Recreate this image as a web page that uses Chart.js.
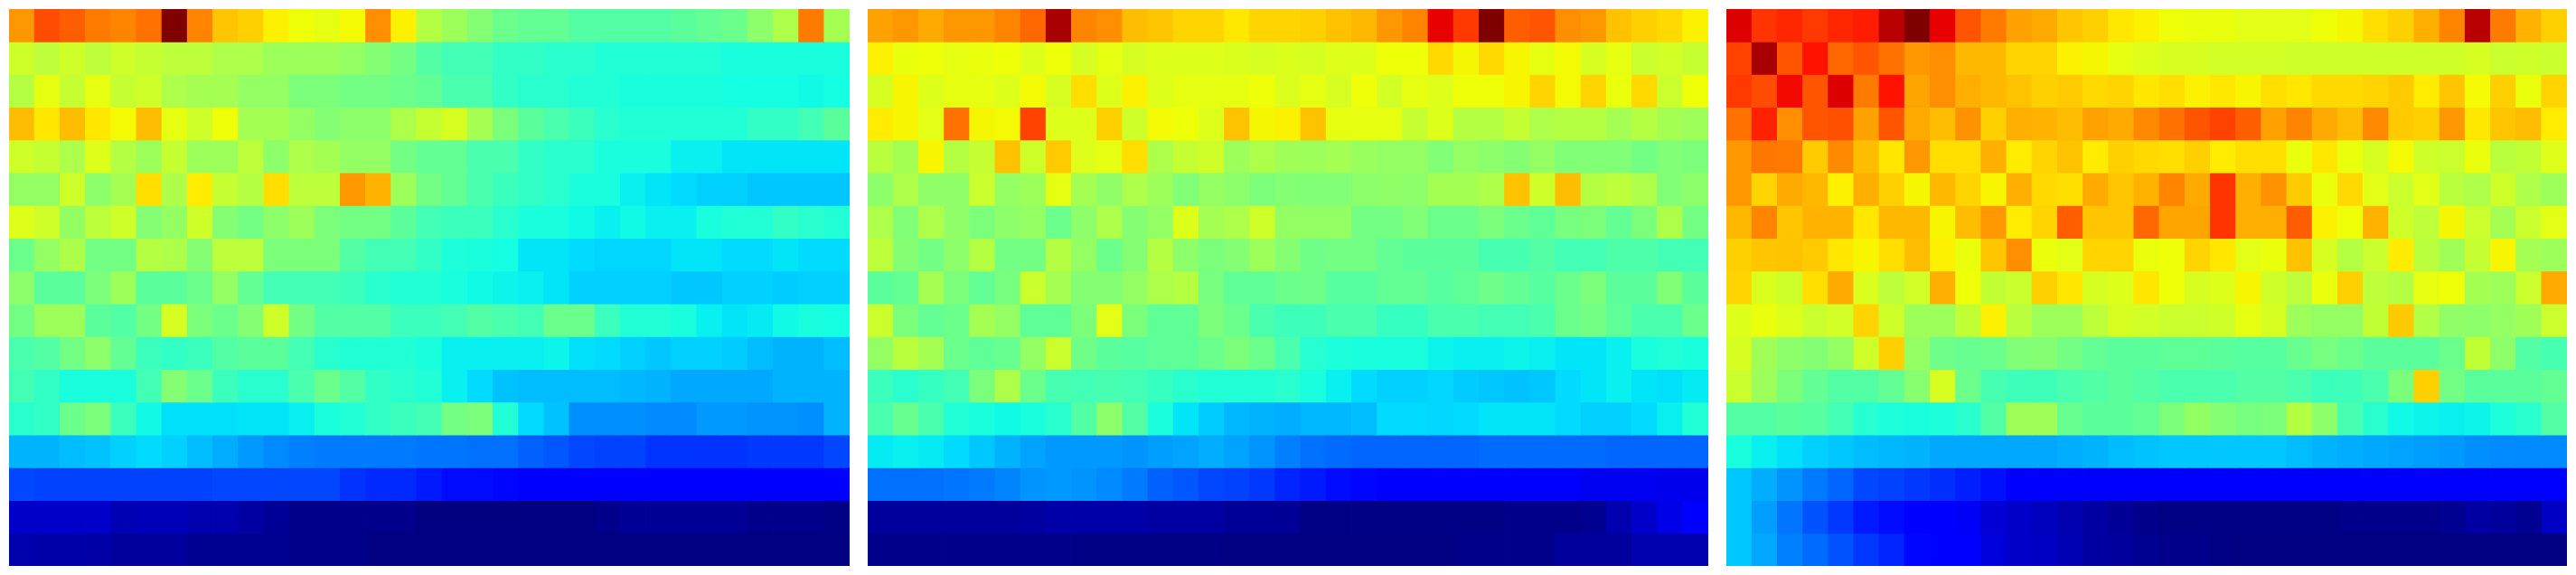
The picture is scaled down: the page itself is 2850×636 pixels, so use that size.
<!DOCTYPE html>
<html>
<head>
<meta charset="utf-8">
<script src="https://cdn.jsdelivr.net/npm/chart.js@4"></script>
<style>
html,body{margin:0;padding:0;background:#fff;width:2850px;height:636px;overflow:hidden}
.p{position:absolute;top:10px;width:930px;height:616px}
canvas{display:block}
</style>
</head>
<body>
<div class="p" style="left:10px"><canvas id="a"></canvas></div>
<div class="p" style="left:960px"><canvas id="b"></canvas></div>
<div class="p" style="left:1910px"><canvas id="c"></canvas></div>
<script>
const columns = Array.from({length:33},(_,i)=>String(i+1));
const panelA = [
[75,83,81,78,77,79,100,77,70,69,65.5,64,63,64.5,76,65.5,57,54,51,48,47,47,45,45,45,45,46,47,48,52,56,78,55],
[60,58,60,58,60,59,58,58,56,56,54,54,54,53,51,49,45,43,43,41,41,40,40,39,39,39,39,39,38,38,38,38,38],
[57,63,59,63,59,60,56,55,55,53,53,50,50,49,49,48,47,44,44,41,40,40,39,39,38,38,38,38,37.5,37.5,37.5,37,37.5],
[71,66.5,71,66.5,64.5,71,63,60,64,55,55,53,51,52,52,56,59,61,55,50,46,44,42,40,39,39,39,39,39,41,41,43,46],
[60,59,56,62,57,54,59,54,54,58,52,56,55,53,53,49,47,47,44,44,41,40,40,38,38,38,36,36,35,35,35,35,35],
[53,53,60,52,55,67.5,56,66,59,57,67.5,58,58,75,72,54,49,47,44,42,41,40,38,38,36,35,34,33,33,32,32,32,32],
[62,60,53,58,60,51,53,60,51,49,52,54,50,49,49,46,43,42,42,40,38,38,37,36,37,36,36,38,39,39,41,40,39],
[48,53,56,49,49,57,56,51,58,58,50,50,50,45,43,43,41,38.5,38,37.5,35,35,34,33.5,33.5,33.5,35,35,34,34,35,34,34],
[52,46,46,50,54,46,46,48,53,47,43,43,43,42,40,39,39,38,37,36.5,36,35,33,33,33,33,32,32,33,33,32.5,33,33],
[49,54,54,46,45,49,61,50,48,51,60,49,45,45,45,42,42,43,45,44,43,48,48,42,39,39,38,36,35,35.5,37,38,37.5],
[44,45,49,52,47,42,41,42,45,46,46,43,40,39,39,39,38,36,36,36,36,36.5,34.5,34,33,32,33,33,32.5,31,30,30,31],
[43,41,38,38,38,43,51,48,42,40,40,44,48,45,41,40,39,36,34,31.5,31,31,31,31,30.5,30,29,29,29,29,30,30,30],
[40,41,48,50,42,37,34.5,34.5,34.5,35,35,36,38,39,41,42,43,49,50,39,34,31.5,26.5,26.5,26.5,26,26,27.5,27.5,27,27,26.5,30],
[30,30,31,31.5,33,34,33,31,29.5,27.5,26,25,24.5,24.5,24.5,24.5,24,24,23.5,23.5,22,21,19.5,19,19,17.5,17.5,17.5,17.5,18,18,18,19.5],
[19.5,19,19,19,19,19,19,19,19.5,19.5,19.5,19.5,19.5,17.5,16.5,16.5,15,13.5,13.5,13,11.5,11.5,11.5,11.5,11.5,11.5,11.5,11.5,11.5,11.5,11.5,11.5,11.5],
[6.5,6.5,6.5,6.5,4.5,5,5,4,4,3,2,1,1,1,1,1,0,0,0,0,0,0,0,1,2,2,2,2,2,1,1,1,0.5],
[3.8,3.5,3.5,3.3,2.5,2.5,2.5,1.5,1.5,1.5,1.5,1,1,1,0,0,0,0,0,0,0,0,0,0,0,0,0,0,0,0,0,0,0]
];
const panelB = [
[74,75,73,75,75,77,80,96.5,77,76,71,70,68.5,68.5,66.5,68.5,68.5,69,70.5,71.5,75,77,91,85,100,81,82,76,75,70.5,69,68,65.5],
[65.5,63.5,64,63,63.5,64,62,64,61,63,61,62,62,62,61.5,61,61.5,61,62,62,64,64,68,64.8,68,65,63,64.5,61,63,59.5,60.5,59],
[61,65,62,63,63,62,64.5,61,67.5,62,65.5,62,63,63,63,64,61.5,63,61,64,60.5,63,62,64,64,65,68.5,64.5,68.5,63.5,68,59.5,64],
[66,65,62.5,79,64.8,64.5,84,62,62,69,60,64.5,64,62,70.5,64.8,65.5,70.5,63,63,63,59,62,57,57,59,56,57,57,55,57,55,54],
[57.5,55,65,57,59,70.5,60,69.5,62,63,67.5,56,59,60,54,56,54.5,54,55,53.5,53,53,50.5,53,52,51,53,50.5,50.5,50.5,49,50.5,50],
[52,56,52.5,52.5,59.5,53,54,63,55,52.5,56,54,50.5,53,52,50,51,50.5,50.5,52,52.5,52,55,55,56,70.5,60,71,57,58,56,50.5,52],
[56,50.5,56,52.5,50,52,53,48,52,56,51,53,62,55,56,60,53,53,53,49,49,50.5,48,48,50,48,46.5,49.5,50,47,50,56,49],
[58,51,49,52,57,49,49,57,53,48,51,57,52,50,51,54,51,48.5,49,49,47,46,46,46,43.5,43.5,45,43,43,44.5,44.5,43,43],
[46,47,55,50,47,49.5,59.5,55,51,51,53,56,57,49.5,46.5,46.5,48,48.5,45.5,45.5,47,47,45.5,46.5,48.5,47,45.5,48,50,46,46,50.5,46],
[59.5,50,47,48,55,53,46.5,46.5,50,62.5,50,46.5,46.5,50,48,44,42.5,42.5,44,44,41.5,41.5,44,44,43,43,44,48,49,46.5,44,44,48],
[53,57.5,55,48,46.5,47.5,53,59.5,48.5,46,45.5,46.5,46.5,48,50,48,44,39.5,38.5,38,38,38,36.5,36,36,36.5,36,35,35,36,38,39,38],
[42,40,41.5,43,50,56,48,43.5,43,43.5,43,41.5,40,39,39,39,40,38,36,34,33,33,33.5,32.5,32,31.5,32,34,35,36,35,34.5,35.5],
[44,47.5,44,39,38,37,38,40,45,52,45,38,35,32.5,30.5,30,29.5,30.5,30.5,31,34,34,33.5,34,35,35,35,34,33,33,34,36,39],
[35.5,36,35.5,34,32,30,28.5,27.5,27.5,27.5,27,28,28.5,29.5,28.5,27,25,23.5,23,22.5,22.5,22.5,22.5,22.5,23,23,23,23,23,22.5,22.5,22.5,22.5],
[23.5,23.5,23.5,24,24.5,25.5,27,27.5,27,26,24.5,22,21,19.5,19,18,16,15,13.5,13,11.5,11.5,11.5,11.5,11.5,11,11,11,10,10,10,9.5,9.5],
[2.5,2.5,2.5,2.5,2.5,2.5,2.8,3.5,3.5,3.5,3.5,3,3,3,2,2,2,0.5,0.5,0.5,0.5,0.5,0.5,0.5,0.5,1,1,1,1.5,4,6.5,9,11.5],
[1,1,1,1,1,1,1,1,0.5,0.5,0.5,0.5,0.5,0.5,0,0,0,0,0,0,0,0,0,1,1,1,1,2.5,2.5,2.5,4,4,4]
];
const panelC = [
[92,85.5,87,85,87,88,95,100,91,82,78,74,73,70,69,66.5,65.5,64,63.5,63.5,62.5,62.5,62.5,64,64.8,67.5,69,72.5,77,95,78,72,69],
[84,96.5,82,89,80,82,79,75,76,71.5,71.5,68.5,68.5,65.5,64.8,63,62,61,61,60.5,60.5,60.5,60,60,60,60,60,60,60,61,59.5,60,59.5],
[85,83,90,82,92,78,89,73.5,76,72.5,71.5,70.5,69,69.5,68,68.5,66.5,67.5,65.5,66.5,65,67.5,66.5,68,68,68.5,69.5,66,70,64.5,69,63.5,68.5],
[79,87.5,76,82,82.5,74,82,73,71,75.5,69,72.5,72,71,74,73,76.5,79,82,84,81,74,77,73,71,76.5,69.5,69,75,66.5,70,71,66],
[75,78.5,78,69.5,76.5,71,66.5,75,67.5,67.5,72.5,66,68.5,70.5,66,69,68,67.5,69,66,67.5,67.5,63.5,66.5,63.5,61,64.5,60,59.5,63.5,57.5,58.5,62],
[75,68.5,73,71.5,65.5,72.5,69,64.8,71.5,68.5,65,72.5,68,67.5,73,70,72,77,73,85.5,72.5,75.5,69.5,63.5,68,62.5,59.5,62.5,57.5,56,60,56,54],
[71.5,77,70,72,72,66.5,71.5,71.5,65,71,75,66,68.5,81,70,70,80,73.5,73.5,85.5,72.5,72.5,81,65.5,64,72,60,58,64.8,59.5,55,59.5,62.5],
[69,70,70.5,69.5,66.5,65,67.5,71,65.5,63.5,70,76,63.5,62.5,68.5,68.5,63.5,64,68.5,66.5,62.5,63.5,70.5,61,57,59.5,66,57.5,54.5,59,65,55,54],
[68.5,61.5,60,67.5,73,61.5,58,60.5,72.5,64,58.5,59.5,69,66.5,61,62,66.5,64,61,62,65,60,58,63.5,69,58,57,63,64,55,54,59.5,73],
[62,63.5,62,59.5,60.5,68.5,60,54,54,58.5,65.5,57.5,54,54,58,61,60.5,59.5,59.5,60,63,61,54,53,53,58.5,69.5,56.5,52.5,52,53,54.5,59.5],
[61,54.5,52,51,53,60,69,53,48.5,47.5,48,50.5,51,49,47,46,46,46.5,46.5,46,45.5,45.5,47.5,49.5,48,46,46,46,48,58.5,52,45,43.5],
[59.5,54,50,47,45,45,47,51.5,61,48,43.5,42.5,42.5,44,45,46,45,44,44,44,45,45,44,42,42.5,44,50,69,49,46,46,46,47],
[45,45,46,45.5,43,39.5,38.5,38,38.5,40,45,54.5,54.5,47.5,46,46,47,50,53,51,49.5,50,57,52,43.5,40,37,36.5,36,36.5,38.5,40,45],
[38,36,34.5,33,32,31,30.5,30,29,29,29,29,29,29.5,30,31,31.5,32,32,32,32,32,31,30,29.5,29,28.5,28,27.5,26.5,26,26,26],
[32,29.5,27,24.5,22.5,19.5,19,18,17,15.5,14,11.5,11.5,11.5,11.5,11.5,11.5,11.5,11.5,11.5,11.5,11.5,11.5,11.5,11.5,11.5,11.5,11.5,11.5,11.5,11.5,11.5,11.5],
[32,28,24,20.5,18,15,13.5,11.5,11.5,10.5,7.5,6.5,5.5,4,3,2,1,0.5,0.5,0.5,0.5,0.5,0.5,0.5,1,1,1,1,1.5,3,2.5,1.5,6],
[32,29,25,23,20.5,18,16,13,11.5,11,8,6.5,6,4.5,3,2.5,1.5,1,1,0.5,0,0,0,0,0,0,0,0,0,0,0,0,0]
];

// matplotlib "jet" colour map, value in 0..100
function jet(value){
  const v = value / 100;
  const lerp = (pts) => {
    for (let i = 1; i < pts.length; i++) {
      if (v <= pts[i][0]) {
        const t = (v - pts[i-1][0]) / (pts[i][0] - pts[i-1][0]);
        return pts[i-1][1] + t * (pts[i][1] - pts[i-1][1]);
      }
    }
    return pts[pts.length-1][1];
  };
  const r = lerp([[0,0],[.35,0],[.66,1],[.89,1],[1,.5]]);
  const g = lerp([[0,0],[.125,0],[.375,1],[.64,1],[.91,0],[1,0]]);
  const b = lerp([[0,.5],[.11,1],[.34,1],[.65,0],[1,0]]);
  return `rgb(${Math.round(r*255)},${Math.round(g*255)},${Math.round(b*255)})`;
}

function heatmap(id, rows){
  new Chart(document.getElementById(id), {
    type: 'bar',
    data: {
      labels: columns,
      datasets: rows.map((row, r) => ({
        label: 'row ' + (r + 1),
        data: row.map(() => [r, r + 1]),
        backgroundColor: row.map(jet),
        borderWidth: 0,
        borderSkipped: false,
        inflateAmount: 0.4,
        categoryPercentage: 1,
        barPercentage: 1,
        grouped: false
      }))
    },
    options: {
      responsive: true,
      maintainAspectRatio: false,
      animation: false,
      layout: { padding: 0 },
      plugins: { legend: { display: false }, tooltip: { enabled: false } },
      scales: {
        x: { display: false, offset: true, grid: { display: false } },
        y: { display: false, min: 0, max: rows.length, reverse: true, grid: { display: false } }
      }
    }
  });
}
heatmap('a', panelA);
heatmap('b', panelB);
heatmap('c', panelC);
</script>
</body>
</html>
